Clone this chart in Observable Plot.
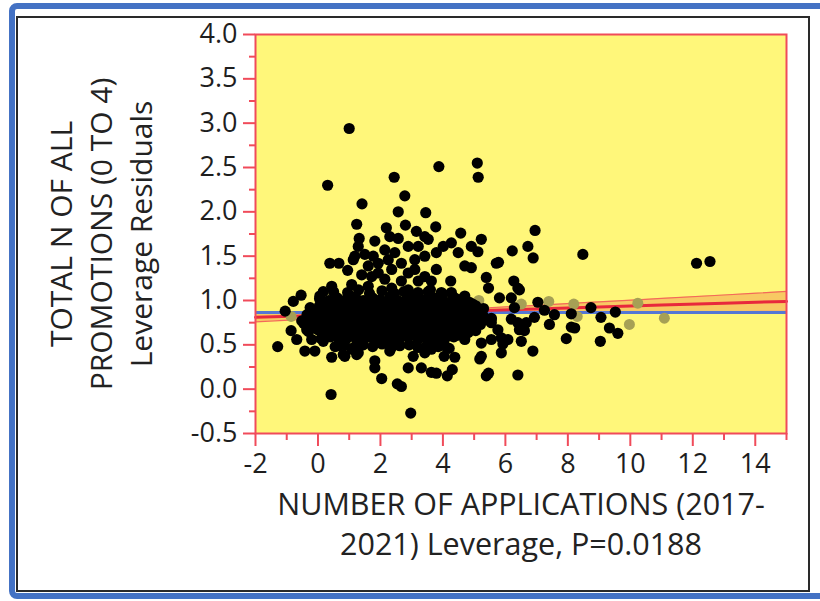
<!DOCTYPE html>
<html><head><meta charset="utf-8">
<script src="https://cdn.jsdelivr.net/npm/d3@7"></script>
<script src="https://cdn.jsdelivr.net/npm/@observablehq/plot@0.6"></script>
<style>
html,body{margin:0;padding:0;background:#fff;}
#wrap{position:relative;width:820px;height:601px;overflow:hidden;}
#blue{position:absolute;left:9px;top:3px;width:840px;height:584px;border:6px solid #4472c4;border-radius:8px;pointer-events:none;}
#black{position:absolute;left:16px;top:16px;width:790px;height:572px;border:2px solid #2a2a2a;pointer-events:none;}
#chart{position:absolute;left:0;top:0;}
</style></head>
<body><div id="wrap"><div id="chart"></div><div id="blue"></div><div id="black"></div></div>
<script>
// ---- data ----
const xTicks = [-2, 0, 2, 4, 6, 8, 10, 12, 14];
const xMinorTicks = [-1, 1, 3, 5, 7, 9, 11, 13, 15];
const yTicks = [-0.5, 0, 0.5, 1, 1.5, 2, 2.5, 3, 3.5, 4];
const yMinorTicks = [-0.25, 0.25, 0.75, 1.25, 1.75, 2.25, 2.75, 3.25, 3.75];
const xLabelLines = ["NUMBER OF APPLICATIONS (2017-", "2021) Leverage, P=0.0188"];
const yLabelLines = ["TOTAL N OF ALL", "PROMOTIONS (0 TO 4)", "Leverage Residuals"];

const meanY = 0.865;
const fitX  = [-2, 0, 2, 3.2, 5, 7, 9, 11, 13, 15];
const fitY  = [0.810, 0.831, 0.852, 0.865, 0.884, 0.905, 0.927, 0.948, 0.969, 0.990];
const bandLo = [0.758, 0.795, 0.829, 0.845, 0.858, 0.864, 0.870, 0.873, 0.876, 0.879];
const bandHi = [0.862, 0.867, 0.875, 0.885, 0.910, 0.946, 0.985, 1.023, 1.062, 1.102];

// scattered (readable) points
const outerPoints = [
 [1.00,2.94],[0.31,2.30],[3.87,2.51],[5.10,2.55],[5.13,2.39],[2.44,2.39],[2.78,2.18],[1.41,2.09],
 [2.57,2.00],[3.45,1.99],[1.24,1.86],[2.19,1.82],[2.80,1.85],[3.77,1.83],[4.57,1.76],[6.95,1.79],
 [5.23,1.69],[6.72,1.61],[6.89,1.48],[6.22,1.56],[5.71,1.42],[5.78,1.43],[1.32,1.70],[1.82,1.67],
 [2.30,1.72],[2.57,1.70],[3.15,1.78],[3.42,1.72],[4.27,1.65],[4.91,1.61],[5.12,1.55],[4.49,1.54],
 [3.79,1.54],[4.01,1.61],[1.29,1.61],[1.50,1.52],[1.18,1.50],[1.77,1.50],[2.14,1.57],[2.46,1.54],
 [2.89,1.61],[3.21,1.61],[3.53,1.69],[0.38,1.42],[0.67,1.42],[0.95,1.34],[1.13,1.46],[1.93,1.42],
 [2.25,1.46],[2.67,1.42],[3.10,1.46],[3.42,1.50],[3.10,1.35],[3.79,1.35],[4.70,1.39],[4.91,1.37],
 [4.25,1.22],[5.39,1.26],[5.46,1.14],[6.27,1.22],[6.45,1.12],[3.42,1.27],[3.63,1.22],[1.40,1.29],
 [1.72,1.27],[2.14,1.24],[2.67,1.22],[0.44,1.16],[0.17,1.10],[-0.54,1.06],[3.95,1.09],
 [1.61,1.39],[2.36,1.35],[2.89,1.31],[1.93,1.31],[3.21,1.22],[1.61,1.16],[2.36,1.14],[2.89,1.12],
 [1.08,1.18],[3.53,1.10],[4.27,1.09],[4.70,1.05],[4.38,1.03],[6.40,1.14],[5.81,1.03],[6.19,1.03],
 [6.29,0.92],[7.04,0.98],[7.25,0.89],[8.48,1.52],[12.12,1.42],[12.55,1.44],
 [-1.29,0.48],[-1.05,0.88],[-0.79,0.99],[-0.86,0.66],[-0.68,0.56],[-0.42,0.43],[-0.10,0.43],
 [0.44,0.36],[0.81,0.39],[1.29,0.41],[1.82,0.32],[2.30,0.43],[0.06,1.05],[-0.52,0.77],[-0.36,0.67],
 [-0.20,0.56],[0.17,0.54],[0.65,0.49],[1.08,0.45],
 [0.42,-0.06],[2.97,-0.27],[2.04,0.12],[1.82,0.24],[2.54,0.06],[2.67,0.03],[2.89,0.24],[3.31,0.24],
 [3.63,0.19],[3.79,0.18],[4.14,0.15],[4.30,0.22],[5.39,0.15],[5.46,0.18],[6.40,0.16],[5.18,0.34],
 [5.23,0.37],[4.38,0.36],[4.04,0.37],[3.42,0.41],[3.05,0.37],[0.86,0.37],[1.24,0.39],
 [6.88,0.43],[5.87,0.41],[5.92,0.51],[5.23,0.52],[5.55,0.56],[6.08,0.56],[6.51,0.54],[6.61,0.66],
 [6.40,0.75],[4.70,0.56],[4.06,0.49],[3.63,0.45],[3.85,0.64],[4.81,0.64],[5.55,0.75],[5.76,0.67],
 [5.87,0.58],[6.45,0.67],[5.55,0.79],[6.19,0.79],
 [7.57,0.84],[7.41,0.73],[6.93,0.81],[6.67,0.75],[8.11,0.85],[8.11,0.70],[8.22,0.69],[7.95,0.57],
 [8.74,0.92],[9.06,0.81],[9.04,0.54],[9.33,0.69],[9.60,0.63],[9.52,0.87]
];

// dense central cluster (estimated)
const corePoints = [
 [0.05,1.02],[0.35,1.00],[0.62,1.03],[0.9,1.01],[1.2,1.04],[1.45,1.00],[1.75,1.03],[2.0,1.01],[2.3,1.04],
 [2.55,1.00],[2.85,1.02],[3.1,1.05],[3.4,1.01],[3.7,1.03],[3.95,1.00],[4.25,0.99],[4.55,1.01],[4.85,0.98],
 [0.5,1.10],[0.95,1.09],[1.3,1.12],[1.65,1.08],[2.05,1.11],[2.45,1.08],[2.75,1.10],[3.2,1.09],[3.6,1.12],[4.0,1.07],
 [0.2,0.97],[0.48,0.96],[0.75,0.98],[1.05,0.97],[1.32,0.96],[1.6,0.98],[1.88,0.97],[2.15,0.96],[2.42,0.98],
 [2.7,0.97],[2.98,0.96],[3.25,0.98],[3.52,0.97],[3.8,0.96],[4.08,0.97],[4.38,0.96],[4.65,0.97],[4.95,0.96],
 [-0.25,0.92],[0.05,0.94],[0.32,0.91],[0.6,0.94],[0.88,0.92],[1.15,0.95],[1.45,0.91],[1.7,0.94],[2.0,0.92],
 [2.28,0.95],[2.55,0.91],[2.82,0.93],[3.1,0.95],[3.38,0.92],[3.65,0.94],[3.95,0.91],[4.22,0.93],[4.5,0.95],
 [4.8,0.92],[5.05,0.94],[5.3,0.91],
 [-0.2,0.88],[0.1,0.88],[0.4,0.87],[0.65,0.89],[0.95,0.88],[1.22,0.87],[1.5,0.89],[1.78,0.88],[2.05,0.87],
 [2.35,0.89],[2.62,0.88],[2.9,0.87],[3.18,0.89],[3.45,0.88],[3.72,0.87],[4.0,0.89],[4.3,0.88],[4.58,0.87],
 [4.88,0.89],[5.15,0.88],
 [-0.35,0.84],[-0.05,0.83],[0.25,0.85],[0.5,0.82],[0.8,0.85],[1.08,0.83],[1.35,0.86],[1.62,0.82],[1.9,0.85],
 [2.2,0.83],[2.48,0.86],[2.75,0.82],[3.02,0.84],[3.3,0.86],[3.58,0.83],[3.85,0.85],[4.15,0.82],[4.42,0.84],
 [4.7,0.86],[5.0,0.83],[5.3,0.82],[5.55,0.80],
 [-0.3,0.79],[0.0,0.80],[0.3,0.78],[0.58,0.79],[0.85,0.80],[1.15,0.78],[1.42,0.79],[1.7,0.80],[1.98,0.78],
 [2.25,0.79],[2.52,0.80],[2.82,0.78],[3.1,0.79],[3.38,0.80],[3.65,0.78],[3.92,0.79],[4.2,0.80],[4.5,0.78],
 [4.78,0.79],[5.05,0.80],[5.35,0.78],
 [-0.45,0.74],[-0.15,0.76],[0.15,0.73],[0.42,0.76],[0.7,0.74],[1.0,0.77],[1.28,0.73],[1.55,0.76],[1.82,0.74],
 [2.1,0.77],[2.38,0.73],[2.65,0.75],[2.95,0.77],[3.22,0.74],[3.5,0.76],[3.78,0.73],[4.05,0.75],[4.35,0.77],
 [4.62,0.74],[4.9,0.76],[5.2,0.73],
 [-0.15,0.70],[0.15,0.69],[0.45,0.71],[0.72,0.70],[1.0,0.69],[1.28,0.71],[1.55,0.70],[1.85,0.69],[2.12,0.71],
 [2.4,0.70],[2.68,0.69],[2.95,0.71],[3.22,0.70],[3.5,0.69],[3.78,0.71],[4.08,0.70],[4.35,0.69],[4.62,0.71],
 [4.92,0.70],
 [-0.3,0.65],[0.0,0.67],[0.3,0.64],[0.58,0.67],[0.85,0.65],[1.12,0.68],[1.4,0.64],[1.7,0.66],[1.98,0.68],
 [2.25,0.64],[2.52,0.66],[2.8,0.68],[3.08,0.65],[3.35,0.67],[3.62,0.64],[3.9,0.67],[4.2,0.65],[4.48,0.67],
 [4.78,0.64],[5.05,0.66],
 [0.25,0.61],[0.55,0.62],[0.82,0.60],[1.1,0.61],[1.38,0.62],[1.65,0.60],[1.95,0.61],[2.22,0.62],[2.5,0.60],
 [2.78,0.61],[3.05,0.62],[3.35,0.60],[3.62,0.61],[3.9,0.62],[4.2,0.60],[4.5,0.61],
 [0.1,0.57],[0.4,0.59],[0.68,0.56],[0.95,0.58],[1.25,0.55],[1.52,0.58],[1.8,0.56],[2.08,0.59],[2.35,0.55],
 [2.62,0.57],[2.9,0.59],[3.2,0.56],[3.48,0.58],[3.75,0.55],[4.05,0.57],[4.35,0.59],
 [0.55,0.48],[0.85,0.50],[1.15,0.47],[1.45,0.50],[1.75,0.48],[2.05,0.51],[2.35,0.47],[2.62,0.49],[2.92,0.50],
 [3.2,0.47],[3.5,0.50],[3.85,0.48],[4.2,0.46]
];

// faded (olive) points
const fadedPoints = [
 [7.39,0.99],[8.19,0.96],[8.30,0.82],[10.24,0.97],[11.09,0.80],[9.97,0.73],[6.51,0.96],
 [-0.86,0.82],[0.49,1.05],[5.15,1.00]
];

// ---- build ----
const toObj = a => a.map(([x, y]) => ({x, y}));
const black = toObj(outerPoints.concat(corePoints));
const faded = toObj(fadedPoints);
const band = fitX.map((x, i) => ({x, fit: fitY[i], lo: bandLo[i], hi: bandHi[i]}));

const RED = "#f04b5a";
const FONT = "'Open Sans', 'Noto Sans', sans-serif";
const fmt = d => (d < 0 ? "-" : "") + String(Math.abs(d));
const fmtY = d => (d < 0 ? "-" : "") + Math.abs(d).toFixed(1);
const yLab = (i, dx) => Plot.text([yLabelLines[i]], {text: d => d, frameAnchor: "left", textAnchor: "middle",
  rotate: -90, dx, fontSize: 30, fill: "#222"});
const xLab = (i, dy) => Plot.text([xLabelLines[i]], {text: d => d, frameAnchor: "bottom", textAnchor: "middle",
  dy, fontSize: 30.5, fill: "#222"});

const plot = Plot.plot({
  width: 820, height: 601,
  marginLeft: 255, marginRight: 34, marginTop: 34, marginBottom: 168,
  style: {fontFamily: FONT, background: "transparent", overflow: "visible"},
  x: {domain: [-2, 15]},
  y: {domain: [-0.5, 4.0]},
  marks: [
    Plot.frame({fill: "#fff77a"}),
    Plot.areaY(band, {x: "x", y1: "lo", y2: "hi", fill: "#f6bd5e", fillOpacity: 0.8, curve: "natural"}),
    Plot.line(band, {x: "x", y: "lo", stroke: "#f36a5a", strokeWidth: 1.2, curve: "natural"}),
    Plot.line(band, {x: "x", y: "hi", stroke: "#f36a5a", strokeWidth: 1.2, curve: "natural"}),
    Plot.ruleY([meanY], {stroke: "#5577d4", strokeWidth: 3}),
    Plot.line(band, {x: "x", y: "fit", stroke: "#e8283c", strokeWidth: 3}),
    Plot.dot(faded, {x: "x", y: "y", r: 5.5, fill: "#a6a055", stroke: "none"}),
    Plot.dot(black, {x: "x", y: "y", r: 5.6, fill: "#000", stroke: "none"}),
    Plot.frame({stroke: RED, strokeWidth: 2}),
    Plot.axisX({ticks: xTicks, tickSize: 13, tickPadding: 7, stroke: RED, strokeWidth: 2,
      fill: "#1e1e1e", fontSize: 27, tickFormat: fmt, label: null}),
    Plot.axisX({ticks: xMinorTicks, tickSize: 7, text: null, stroke: RED, strokeWidth: 2, label: null}),
    Plot.axisY({ticks: yTicks, tickSize: 12, tickPadding: 6, stroke: RED, strokeWidth: 2,
      fill: "#1e1e1e", fontSize: 27, tickFormat: fmtY, label: null}),
    Plot.axisY({ticks: yMinorTicks, tickSize: 6, text: null, stroke: RED, strokeWidth: 2, label: null}),
    yLab(0, -193), yLab(1, -153), yLab(2, -113),
    xLab(0, 81), xLab(1, 121)
  ]
});
document.getElementById("chart").appendChild(plot);
</script>
</body></html>
